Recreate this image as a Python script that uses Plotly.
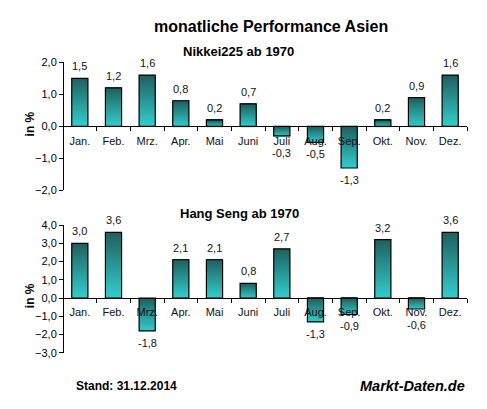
import plotly.graph_objects as go

months = ["Jan.", "Feb.", "Mrz.", "Apr.", "Mai", "Juni", "Juli", "Aug.", "Sep.", "Okt.", "Nov.", "Dez."]
nikkei = [1.5, 1.2, 1.6, 0.8, 0.2, 0.7, -0.3, -0.5, -1.3, 0.2, 0.9, 1.6]
hangseng = [3.0, 3.6, -1.8, 2.1, 2.1, 0.8, 2.7, -1.3, -0.9, 3.2, -0.6, 3.6]
nikkei_range = [-2, 2]
hangseng_range = [-3, 4]

W, H = 487, 409
FONT = "Arial, Liberation Sans, sans-serif"

def px(x):
    return x / W

def py(y):
    return 1 - y / H

dark = (31, 98, 96)
light = (51, 204, 204)
K = 30

fig = go.Figure()

panels = [
    dict(vals=nikkei, rng=nikkei_range, xa="x", ya="y", top=58, bot=190),
    dict(vals=hangseng, rng=hangseng_range, xa="x2", ya="y2", top=225.7, bot=357.3),
]

for p in panels:
    vals = p["vals"]
    for k in range(K):
        t = k / (K - 1)
        c = tuple(round(light[i] + (dark[i] - light[i]) * t) for i in range(3))
        bases, heights = [], []
        for v in vals:
            lo, hi = min(0, v), max(0, v)
            h = (hi - lo) / K
            bases.append(lo + h * k)
            heights.append(h * (1.0 if k == K - 1 else 1.6))
        fig.add_trace(go.Bar(
            x=months, y=heights, base=bases, width=0.48,
            marker=dict(color="rgb(%d,%d,%d)" % c, line=dict(width=0)),
            xaxis=p["xa"], yaxis=p["ya"], showlegend=False, hoverinfo="skip"))
    fig.add_trace(go.Bar(
        x=months, y=vals, width=0.48,
        marker=dict(color="rgba(0,0,0,0)", line=dict(color="black", width=1.2)),
        xaxis=p["xa"], yaxis=p["ya"], showlegend=False))

layout = dict(
    width=W, height=H, margin=dict(l=0, r=0, t=0, b=0),
    paper_bgcolor="white", plot_bgcolor="white",
    barmode="overlay", separators=",.",
    font=dict(family=FONT, size=11, color="black"),
)

def txt(text, x, y, size, xanchor="center", angle=0):
    return dict(text=text, x=px(x), y=py(y), xref="paper", yref="paper",
                xanchor=xanchor, yanchor="middle", showarrow=False, textangle=angle,
                font=dict(family=FONT, size=size, color="black"))

annotations = []
for i, p in enumerate(panels):
    suf = "" if i == 0 else "2"
    y0, y1 = py(p["bot"]), py(p["top"])
    lo, hi = p["rng"]
    zero_pos = y0 + (0 - lo) / (hi - lo) * (y1 - y0)
    ppu = (p["bot"] - p["top"]) / (hi - lo)
    layout["xaxis" + suf] = dict(
        domain=[px(63), px(467)], anchor="free", position=zero_pos,
        range=[-0.5, 11.5], showline=True, linecolor="black", linewidth=1,
        ticks="outside", tickson="boundaries", ticklen=4, tickcolor="black",
        showgrid=False, zeroline=False, ticklabelstandoff=4,
        tickfont=dict(family=FONT, size=11, color="#111"), fixedrange=True)
    layout["yaxis" + suf] = dict(
        domain=[y0, y1], anchor="free", position=px(63),
        range=p["rng"], dtick=1, tickformat=".1f",
        showline=True, linecolor="black", linewidth=1,
        ticks="outside", ticklen=4, tickcolor="black",
        showgrid=False, zeroline=False,
        tickfont=dict(family=FONT, size=11, color="black"),
        fixedrange=True)
    zero_px = p["top"] + hi * ppu
    annotations.append(txt("<b>in %</b>", 30, zero_px - 2, 12, angle=-90))
    for m, v in zip(months, p["vals"]):
        depth = abs(v) * ppu
        if v >= 0:
            shift = 12
        else:
            shift = -(max(depth + 12, 27) - depth)
        annotations.append(dict(
            x=m, y=v, xref=p["xa"], yref=p["ya"], yshift=shift,
            text=("%.1f" % v).replace(".", ","), showarrow=False,
            font=dict(family=FONT, size=11, color="#111")))

annotations += [
    txt("<b>monatliche Performance Asien</b>", 271, 21, 16),
    txt("<b>Nikkei225 ab 1970</b>", 238, 47, 13),
    txt("<b>Hang Seng ab 1970</b>", 239, 214, 13),
    txt("<b>Stand: 31.12.2014</b>", 74, 391, 12, "left"),
    txt("<b><i>Markt-Daten.de</i></b>", 467, 391, 14.5, "right"),
]
layout["annotations"] = annotations
fig.update_layout(**layout)
fig.write_html("out.html")
